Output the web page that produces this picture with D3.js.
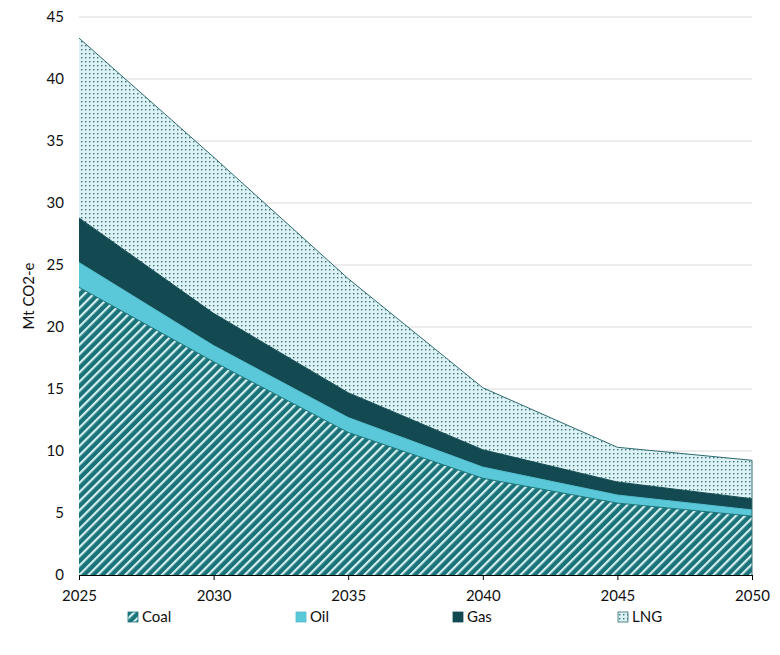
<!DOCTYPE html>
<html><head><meta charset="utf-8">
<script src="https://cdn.jsdelivr.net/npm/d3@7"></script>
<style>body{margin:0;background:#fff}svg{display:block}text{font-family:Lato,"Open Sans",sans-serif}</style>
</head><body>
<svg id="chart" width="780" height="655"></svg>
<script>
const years = [2025, 2030, 2035, 2040, 2045, 2050];
const coal = [23.2, 17.2, 11.5, 7.8, 5.8, 4.75];
const oil = [2.0, 1.3, 1.2, 0.9, 0.65, 0.5];
const gas = [3.6, 2.6, 2.0, 1.4, 1.05, 0.9];
const lng = [14.5, 12.6, 9.2, 5.0, 2.8, 3.1];
const seriesNames = ["Coal", "Oil", "Gas", "LNG"];
const yTicks = [0, 5, 10, 15, 20, 25, 30, 35, 40, 45];

const svg = d3.select("#chart");
const m = {left: 79, right: 28, top: 17, bottom: 80};
const W = 780, H = 655;
const x = d3.scaleLinear().domain([2025, 2050]).range([m.left, W - m.right]);
const y = d3.scaleLinear().domain([0, 45]).range([H - m.bottom, m.top]);

const defs = svg.append("defs");
const stripe = defs.append("pattern").attr("id", "pCoal").attr("patternUnits", "userSpaceOnUse")
  .attr("width", 6.5).attr("height", 6.5).attr("patternTransform", "rotate(45)");
stripe.append("rect").attr("width", 6.5).attr("height", 6.5).attr("fill", "#1a7378");
stripe.append("rect").attr("x", 0).attr("width", 2.2).attr("height", 6.5).attr("fill", "#d6f0f2");
const dots = defs.append("pattern").attr("id", "pLNG").attr("patternUnits", "userSpaceOnUse")
  .attr("width", 4).attr("height", 4);
dots.append("rect").attr("width", 4).attr("height", 4).attr("fill", "#dcf2f5");
dots.append("rect").attr("x", 1).attr("y", 1).attr("width", 1.4).attr("height", 1.4).attr("fill", "#357479");

const fills = ["url(#pCoal)", "#5ac8d8", "#134a51", "url(#pLNG)"];
const strokes = ["#1a7378", "#4fbccc", "#134a51", "#2f6a70"];

// grid
svg.append("g").selectAll("line").data(yTicks.filter(d => d > 0)).join("line")
  .attr("x1", m.left).attr("x2", W - m.right)
  .attr("y1", d => y(d)).attr("y2", d => y(d))
  .attr("stroke", "#d9d9d9").attr("stroke-width", 1);

const table = years.map((yr, i) => ({year: yr, Coal: coal[i], Oil: oil[i], Gas: gas[i], LNG: lng[i]}));
const stack = d3.stack().keys(seriesNames)(table);
const area = d3.area().x(d => x(d.data.year)).y0(d => y(d[0])).y1(d => y(d[1]));
const line = d3.line().x(d => x(d.data.year)).y(d => y(d[1]));

svg.append("g").selectAll("path").data(stack).join("path")
  .attr("d", area).attr("fill", (d, i) => fills[i]);
svg.append("g").selectAll("path").data(stack).join("path")
  .attr("d", line).attr("fill", "none").attr("stroke", (d, i) => strokes[i]).attr("stroke-width", 1);
svg.append("line").attr("x1", x(2050)).attr("x2", x(2050))
  .attr("y1", y(0)).attr("y2", y(d3.sum([coal, oil, gas, lng], a => a[a.length-1])))
  .attr("stroke", "#2f6a70");

// axes
const xAxis = d3.axisBottom(x).tickValues(years).tickFormat(d3.format("d")).tickSize(5).tickPadding(10);
const gx = svg.append("g").attr("transform", `translate(0,${y(0)})`).call(xAxis);
gx.select(".domain").attr("stroke", "#000");
gx.selectAll(".tick line").attr("stroke", "#000");
gx.selectAll("text").attr("font-size", 15).attr("fill", "#111");

const yAxis = d3.axisLeft(y).tickValues(yTicks).tickSize(0).tickPadding(15);
const gy = svg.append("g").attr("transform", `translate(${m.left},0)`).call(yAxis);
gy.select(".domain").remove();
gy.selectAll("text").attr("font-size", 15).attr("fill", "#111");

svg.append("text").attr("transform", `translate(34,${(y(0)+y(45))/2}) rotate(-90)`)
  .attr("text-anchor", "middle").attr("font-size", 15).attr("fill", "#111").text("Mt CO2-e");

// legend
const legX = [128, 296, 453, 618];
const lg = svg.append("g").selectAll("g").data(seriesNames).join("g")
  .attr("transform", (d, i) => `translate(${legX[i]},617)`);
lg.append("rect").attr("x", 0).attr("y", -5).attr("width", 10).attr("height", 10)
  .attr("fill", (d, i) => fills[i]).attr("stroke", (d, i) => strokes[i]).attr("stroke-width", 0.8);
lg.append("text").attr("x", 14).attr("y", 0).attr("dy", "0.35em").attr("font-size", 15).attr("fill", "#111").text(d => d);
</script>
</body></html>
